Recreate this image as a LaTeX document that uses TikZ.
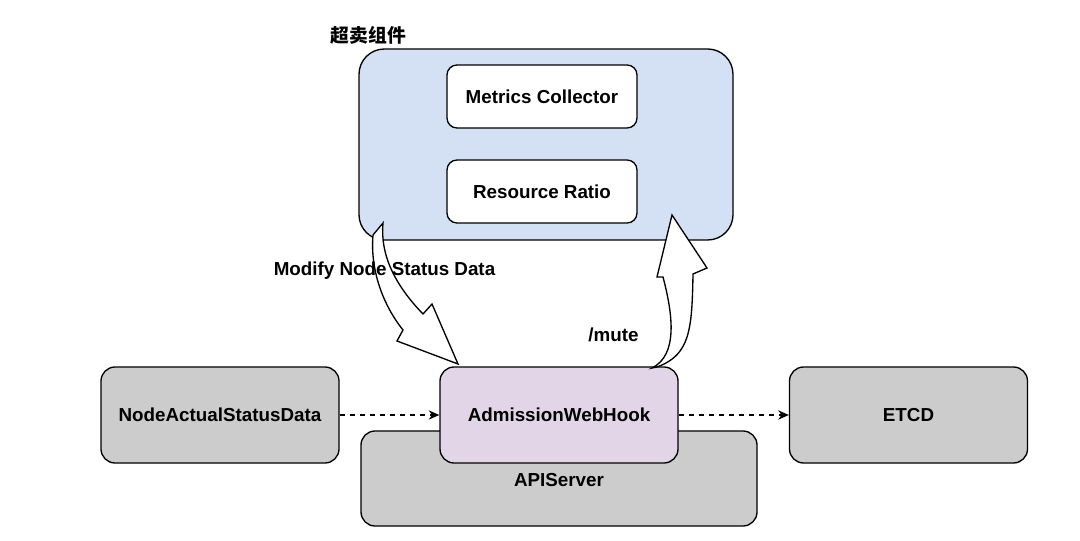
\documentclass[tikz,border=0pt]{standalone}
\usepackage{fontspec}
\setmainfont{Liberation Sans}
\newfontfamily\cjk{Noto Sans CJK SC}
\usetikzlibrary{arrows.meta}
\definecolor{cblue}{HTML}{D4E1F5}
\definecolor{cgrey}{HTML}{CCCCCC}
\definecolor{cpink}{HTML}{E1D5E7}
\tikzset{
  base/.style={draw=black, line width=1pt, inner sep=0pt, align=center,
    font=\fontsize{14.1}{17}\selectfont\bfseries},
  bigbox/.style={base, fill=cblue, rounded corners=19pt,
    minimum width=280.5pt, minimum height=143.25pt},
  inbox/.style={base, fill=white, rounded corners=7.5pt,
    minimum width=142.5pt, minimum height=47.25pt},
  greybox/.style={base, fill=cgrey, rounded corners=10.5pt,
    minimum width=178.5pt, minimum height=72pt},
  pinkbox/.style={base, fill=cpink, rounded corners=10.5pt,
    minimum width=178.5pt, minimum height=72pt},
  apibox/.style={base, fill=cgrey, rounded corners=10.5pt,
    minimum width=297pt, minimum height=71.25pt},
  lbl/.style={inner sep=0pt, font=\fontsize{14.1}{17}\selectfont\bfseries},
  dasharrow/.style={draw=black, line width=1pt, dash pattern=on 4pt off 3.5pt,
    -{Stealth[length=8pt,width=7pt]}},
  blockarrow/.style={draw=black, line width=1pt, fill=white, line join=miter}
}
\begin{document}
\begin{tikzpicture}[x=0.75pt, y=-0.75pt]
\useasboundingbox (0,0) rectangle (1080,541);
% top container
\node[bigbox] (over) at (546,144.5) {};
\node[lbl, font=\fontsize{14.1}{17}\selectfont\cjk\bfseries] (overlbl) at (368.5,35) {超卖组件};
\node[inbox] (metrics) at (542,96.5) {Metrics Collector};
\node[inbox] (ratio) at (542,191.5) {Resource Ratio};
% bottom row
\node[apibox] (api) at (559,478.5) {\raisebox{-0.44em}[0pt][0pt]{APIServer}};
\node[greybox] (nasd) at (220,415) {NodeActualStatusData};
\node[pinkbox] (awh) at (559,415) {AdmissionWebHook};
\node[greybox] (etcd) at (908.5,415) {ETCD};
% dashed connectors
\draw[dasharrow] (nasd.east) -- (awh.west);
\draw[dasharrow] (awh.east) -- (etcd.west);
% block arrow: over -> awh (Modify Node Status Data)
\draw[blockarrow] (373,235) .. controls (370,270) and (383,305) .. (403,330)
  -- (397,341) -- (458,364) -- (432,304) -- (423,314)
  .. controls (395,285) and (380,255) .. (383,223) -- cycle;
% block arrow: awh -> over (/mute)
\draw[blockarrow] (652,368) -- (657,367) .. controls (690,355) and (692,330) .. (693,274)
  -- (707,268) -- (672,215) -- (657,277) -- (663,277)
  .. controls (673,315) and (678,355) .. (652,368) -- cycle;
% labels
\node[lbl] (modlbl) at (384.5,271) {Modify Node Status Data};
\node[lbl] (mutelbl) at (613.5,335) {/mute};
\end{tikzpicture}
\end{document}
